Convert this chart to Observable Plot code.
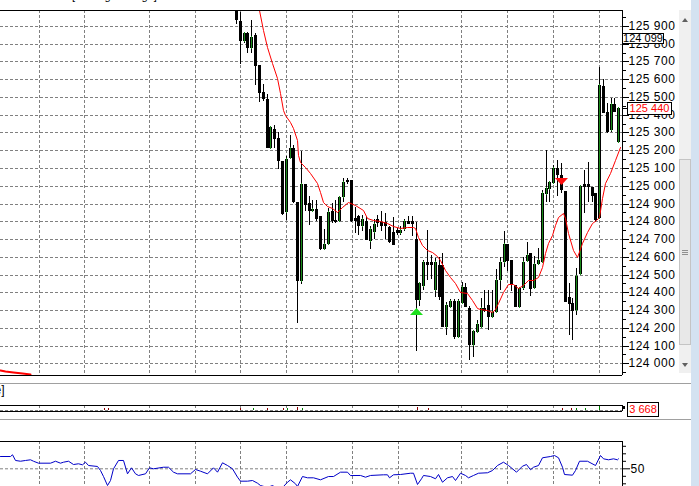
<!DOCTYPE html>
<html><head><meta charset="utf-8">
<script src="https://cdn.jsdelivr.net/npm/d3@7"></script>
<script src="https://cdn.jsdelivr.net/npm/@observablehq/plot@0.6"></script>
<style>
html,body{margin:0;padding:0;background:#fff;}
#wrap{position:relative;width:699px;height:486px;overflow:hidden;background:#fff;font-family:"Liberation Sans",Arial,sans-serif;}
.abs{position:absolute;}
.abs svg{display:block;}
</style></head><body><div id="wrap"></div>
<script>
// ---- data ----
const open = [126010,125928,125817,125861,125778,125849,125680,125527,125489,125215,
125320,125270,125140,124851,125159,125213,124906,124465,125011,124904,
124855,124870,124831,124645,124671,124855,124808,124799,124939,125035,
125033,124818,124827,124774,124804,124688,124739,124810,124795,124795,
124767,124742,124748,124735,124754,124804,124804,124700,124356,124435,
124569,124569,124413,124553,124553,124206,124319,124351,124150,124338,
124431,124310,124103,124178,124206,124310,124328,124262,124290,124469,
124569,124672,124582,124441,124319,124422,124578,124623,124426,124560,
124572,124953,124980,125017,125102,125061,124970,124375,124341,124300,
124501,125008,125008,124995,124957,124817,125562,125417,125314,125459,
125248];
const high = [126040,125977,125868,125868,125934,125859,125680,125572,125515,125339,
125341,125300,125140,125165,125287,125230,124911,125193,125011,124940,
124921,124921,124831,124756,124874,124902,124921,124943,125043,125043,
125035,124883,124836,124836,124825,124772,124814,124836,124857,124847,
124776,124823,124763,124776,124810,124829,124829,124796,124455,124582,
124751,124610,124591,124600,124619,124347,124362,124362,124362,124456,
124452,124323,124182,124244,124366,124413,124413,124413,124529,124600,
124745,124672,124582,124441,124422,124600,124683,124623,124604,124648,
124976,125201,125023,125115,125145,125126,124970,124450,124366,124535,
125004,125089,125136,124995,124957,125667,125600,125465,125496,125496,
125445];
const low = [125911,125684,125802,125750,125746,125568,125474,125478,125212,125208,
125210,125093,124836,124806,125155,124902,124227,124446,124855,124780,
124851,124799,124640,124640,124667,124790,124793,124796,124911,125010,
124795,124733,124724,124743,124693,124645,124701,124768,124744,124701,
124678,124665,124725,124725,124744,124783,124716,124070,124320,124413,
124469,124473,124375,124356,124206,124159,124319,124135,124142,124338,
124319,124018,124037,124175,124206,124289,124187,124255,124281,124413,
124544,124521,124409,124315,124315,124413,124578,124379,124426,124560,
124572,124910,124910,125017,124942,124957,124347,124159,124131,124272,
124501,124845,124910,124910,124797,124813,125408,125296,125305,125417,
125248];
const close = [125934,125817,125861,125778,125838,125677,125525,125487,125215,125332,
125266,125137,124840,125150,125212,124906,124465,125011,124889,124855,
124870,124814,124645,124671,124851,124799,124796,124939,125022,125020,
124799,124799,124774,124814,124697,124754,124782,124791,124776,124776,
124682,124669,124735,124748,124804,124787,124787,124356,124452,124569,
124554,124554,124572,124375,124206,124328,124351,124150,124351,124431,
124319,124103,124182,124221,124310,124296,124262,124290,124469,124569,
124672,124578,124441,124319,124422,124569,124608,124417,124560,124582,
124957,124986,125023,125102,125061,124976,124347,124334,124296,124492,
124999,124995,124995,124944,124807,125568,125408,125304,125459,125417,
125440];

// moving average (red line): bar position, price
const maIdx = [5.1,6.0,7.14,8.03,9.34,10.65,11.51,12.37,12.82,14.12,14.99,15.88,16.30,16.74,18.05,19.36,21.11,21.97,22.84,23.73,25.03,26.34,27.65,29.38,31.13,33.30,34.19,35.91,37.67,39.42,41.15,42.90,44.65,46.38,46.82,47.69,48.58,49.88,51.19,52.50,53.36,54.67,55.98,57.28,58.59,60.35,61.65,62.96,63.82,65.58,66.88,67.75,68.61,69.92,71.23,72.53,73.84,75.15,76.46,77.77,79.07,79.96,80.83,81.69,82.58,83.44,84.31,85.46,86.06,86.92,88.23,89.28,90.43,91.73,93.04,94.17,95.03,95.66,96.52,97.83,99.14,100.45];
const maVal = [126075,125988,125877,125783,125690,125605,125521,125427,125399,125361,125324,125258,125173,125135,125107,125070,125014,124966,124910,124886,124873,124854,124882,124910,124892,124863,124817,124807,124801,124788,124773,124760,124766,124769,124760,124713,124666,124638,124628,124604,124582,124525,124488,124450,124403,124397,124356,124309,124304,124300,124290,124304,124338,124403,124445,124445,124422,124441,124469,124469,124488,124544,124619,124676,124723,124779,124826,124848,124817,124732,124638,124600,124676,124741,124788,124807,124826,124929,125014,125070,125145,125220];

// short red line at the bottom-left of the price panel
const lowRedIdx = [-61.73,-60.4,-58.3,-56.0,-53.9];
const lowRedVal = [123960,123956,123951,123945,123941];

// oscillator (blue line)
const rsiIdx = [-61.7,-59.1,-58.5,-57.8,-56.5,-55.2,-53.9,-53.0,-51.7,-48.7,-47.3,-46.0,-45.2,-43.9,-42.6,-41.3,-40.4,-39.5,-38.6,-36.4,-35.6,-34.7,-33.7,-33.0,-32.1,-30.8,-29.6,-28.6,-27.5,-26.4,-25.6,-23.8,-22.7,-21.6,-19.0,-17.7,-16.4,-15.5,-12.0,-10.7,-9.4,-7.7,-5.9,-5.0,-3.7,-2.4,-1.1,0.2,1.0,2.8,4.1,5.4,6.3,8.0,9.3,10.2,12.4,13.3,14.1,15.4,15.9,17.2,18.5,20.2,22.0,24.1,25.5,27.2,29.0,29.8,32.4,33.7,35.1,38.5,39.4,40.1,41.1,42.9,45.5,46.4,47.3,48.3,49.0,50.7,52.1,52.8,53.8,55.1,56.4,57.3,58.6,59.9,60.8,62.1,63.4,65.6,66.9,68.2,69.8,71.2,72.1,73.2,74.7,75.9,76.9,77.8,79.1,80.0,82.1,83.2,84.3,85.2,85.8,87.8,88.7,89.8,91.7,93.9,95.2,96.1,97.4,98.7,99.6,100.0];
const rsiVal = [66.4,66.4,68.7,61.1,60.1,61.1,62.0,60.1,57.5,57.5,60.1,57.5,58.8,60.1,55.7,56.7,55.3,58.8,54.4,53.1,47.7,39.7,27.7,34.4,50,61.1,61.1,43.3,51.3,43.3,41.1,43.3,51.3,50,52.1,52.1,45.5,43.3,43.3,49.1,46.8,43.3,51.3,45.5,58.0,54.4,50,38.8,33.5,33.5,34.4,30.8,27.7,25.1,27.7,25.1,26.4,32.1,35.3,30,26.4,39.7,38,38,35.3,39.7,39.7,45.5,45.5,41.0,41.1,38.8,41.1,42,42,38,42,42.4,44.1,44.1,29.1,36.7,41.1,39.7,36.7,42.4,32.1,38,39.7,34.4,44.1,41.1,38,41.1,44.1,44.7,47.7,54.4,58.8,54.4,50,45.5,53.5,55.7,48.7,52.1,54.4,64.7,66.4,67.7,64.7,52.1,42.4,41.5,47.7,60.1,60.1,54.4,67.7,63.3,62,63.3,62,63.3];

// volume ticks (tiny)
const volIdx = [-34.6,-33.5,1.1,4.5,8.1,12.3,13.3,15.9,17.2,47.3,50.1,85.3,87.5,89.0,91.2,95.0];
const volVal = [0.2,0.2,0.25,0.2,0.25,0.2,0.3,0.4,0.3,0.45,0.2,0.25,0.2,0.3,0.25,0.55];
const volUp = [0,0,0,1,0,0,1,0,1,0,0,0,0,1,1,1];

// vertical grid positions (bar units)
const vGridIdx = [-51.61,-39.68,-22.68,-10.65,1.12,13.16,30.26,42.30,58.85,70.89,83.00,95.03];

// axis ticks
const priceTicks = d3.range(124000, 125901, 100);
const priceMinor = d3.range(123950, 125951, 100);
const oscTicks = [50];
const oscMinor = [30,40,60,70,80];

// signals and tags
const buyIdx = [47], buyPrice = [124292];
const sellIdx = [85], sellPrice = [125025];
const tagTexts = ["124 099", "125 440"];
const tagPrices = [125833, 125440];
const volTag = "3 668";

// ---- build ----
const wrap = document.getElementById("wrap");
const W = 699;
const xDomain = [-61.73, 100.97];
const yDomain = [123934, 125990];
const fmt = d => d3.format(",")(d).replace(/,/g, " ");
const font = '"Liberation Sans", Arial, sans-serif';
const grid = {stroke: "#808080", strokeOpacity: 1, strokeDasharray: "3,2"};
const green = "#1a8a1a";

const candles = open.map((o, i) => ({i, o, h: high[i], l: low[i], c: close[i]}));
const ma = maIdx.map((x, k) => ({x, y: maVal[k]}));
const lowRed = lowRedIdx.map((x, k) => ({x, y: lowRedVal[k]}));
const osc = rsiIdx.map((x, k) => ({x, y: rsiVal[k]}));
const vols = volIdx.map((x, k) => ({x, v: volVal[k], up: volUp[k]}));

const upTri = {draw(ctx) { ctx.moveTo(0, -3.5); ctx.lineTo(6.5, 3.5); ctx.lineTo(-6.5, 3.5); ctx.closePath(); }};
const downTri = {draw(ctx) { ctx.moveTo(-6.5, -3.5); ctx.lineTo(6.5, -3.5); ctx.lineTo(0, 3.5); ctx.closePath(); }};

function place(el, top) {
  const d = document.createElement("div");
  d.className = "abs"; d.style.left = "0px"; d.style.top = top + "px";
  d.appendChild(el); wrap.appendChild(d); return d;
}

const main = Plot.plot({
  width: W, height: 376, marginTop: 10, marginBottom: 1, marginLeft: 0, marginRight: 77,
  style: {background: "transparent", fontFamily: font, fontSize: "12px", letterSpacing: "0.5px", color: "#000", overflow: "visible"},
  x: {domain: xDomain, round: true, axis: null},
  y: {domain: yDomain, round: true, axis: null},
  marks: [
    Plot.gridY(priceTicks, grid),
    Plot.gridX(vGridIdx, grid),
    Plot.line(lowRed, {x: "x", y: "y", stroke: "#ff0000", strokeWidth: 2, clip: true}),
    Plot.ruleX(candles, {x: "i", y1: "l", y2: "h", stroke: "#000", clip: true}),
    Plot.ruleX(candles, {x: "i", y1: "o", y2: "c", stroke: "#000", strokeWidth: 3, clip: true}),
    Plot.ruleX(candles.filter(d => d.c > d.o), {x: "i", y1: "o", y2: "c", stroke: green, strokeWidth: 1, insetTop: 1, insetBottom: 1, clip: true}),
    Plot.line(ma, {x: "x", y: "y", stroke: "#ff0000", strokeWidth: 1, clip: true}),
    Plot.dot(buyIdx.map((x, k) => ({x, y: buyPrice[k]})), {x: "x", y: "y", symbol: upTri, fill: "#1ee01e", stroke: "none"}),
    Plot.dot(sellIdx.map((x, k) => ({x, y: sellPrice[k]})), {x: "x", y: "y", symbol: downTri, fill: "#ff1010", stroke: "none"}),
    Plot.ruleY([yDomain[1], yDomain[0]], {stroke: "#000"}),
    Plot.ruleX([xDomain[1]], {stroke: "#000"}),
    Plot.axisY(priceTicks, {anchor: "right", label: null, tickSize: 6, tickPadding: 0, tickFormat: fmt, stroke: "#000"}),
    Plot.axisY(priceMinor, {anchor: "right", label: null, tickSize: 3, tickFormat: () => "", stroke: "#000"})
  ]
});
place(main, 0);

const volPlot = Plot.plot({
  width: W, height: 18, marginTop: 5, marginBottom: 7, marginLeft: 0, marginRight: 77,
  style: {background: "transparent", overflow: "visible"},
  x: {domain: xDomain, round: true, axis: null},
  y: {domain: [0, 1], round: true, axis: null},
  marks: [
    Plot.gridY([0.25], grid),
    Plot.gridX(vGridIdx, grid),
    Plot.ruleX(vols, {x: "x", y1: 0.25, y2: d => 0.25 + d.v, stroke: d => d.up ? "#008000" : "#8b0000"}),
    Plot.ruleY([0, 1], {stroke: "#000"}),
    Plot.ruleX([xDomain[1]], {stroke: "#000"})
  ]
});
place(volPlot, 400);

const oscPlot = Plot.plot({
  width: W, height: 46, marginTop: 1, marginBottom: 0, marginLeft: 0, marginRight: 77,
  style: {background: "transparent", fontFamily: font, fontSize: "12px", letterSpacing: "0.5px", color: "#000", overflow: "visible"},
  x: {domain: xDomain, round: true, axis: null},
  y: {domain: [26.4, 86.4], axis: null},
  marks: [
    Plot.gridY([50], grid),
    Plot.gridX(vGridIdx, grid),
    Plot.line(osc, {x: "x", y: "y", stroke: "#0000c8", strokeWidth: 1, clip: true}),
    Plot.ruleY([86.4], {stroke: "#000"}),
    Plot.ruleX([xDomain[1]], {stroke: "#000"}),
    Plot.axisY(oscTicks, {anchor: "right", label: null, tickSize: 7, tickPadding: 1, stroke: "#000"}),
    Plot.axisY(oscMinor, {anchor: "right", label: null, tickSize: 3, tickFormat: () => "", stroke: "#000"})
  ]
});
place(oscPlot, 440);

// helpers for decoration
function div(css) { const d = document.createElement("div"); d.style.cssText = "position:absolute;white-space:nowrap;" + css; wrap.appendChild(d); return d; }

// price tags
const ys = main.scale("y");
const y0 = ys.apply(tagPrices[0]);
const t0 = div(`left:622px;top:${Math.round(y0 - 5.5)}px;width:42px;height:11px;border:1px solid #000;background:#fff;font:11px ${font};line-height:9px;color:#000;text-align:center;box-sizing:border-box;`);
t0.textContent = tagTexts[0];
const y1 = ys.apply(tagPrices[1]);
div(`left:622px;top:${Math.round(y1)}px;width:5px;height:1px;background:#000;`);
const t1 = div(`left:627px;top:${Math.round(y1 - 6.5)}px;width:45px;height:13px;border:1px solid #000;background:#fff;font:11px ${font};line-height:11px;color:#ff0000;text-align:center;box-sizing:border-box;`);
t1.textContent = tagTexts[1];

// volume tag
div(`left:622px;top:406px;width:3px;height:3px;background:#000;`);
const t2 = div(`left:627px;top:402px;width:32px;height:15px;border:1px solid #000;background:#fff;font:11px ${font};line-height:13px;color:#ff0000;text-align:center;box-sizing:border-box;`);
t2.textContent = volTag;

// separators
div(`left:0;top:383px;width:691px;height:1px;background:#a0a0a0;`);
div(`left:0;top:419px;width:691px;height:1px;background:#a0a0a0;`);

// cut-off titles
const tt = div(`left:72px;top:-9px;font:11px ${font};line-height:11px;color:#000;`);
tt.textContent = "[Moving Average]";
const tv = div(`left:-120px;top:384px;width:124.5px;text-align:right;font:12px ${font};line-height:13px;color:#000;`);
tv.textContent = "[Volume]";

// scrollbar + window edge
div(`left:679px;top:10px;width:12px;height:363px;background:#f0f0f0;`);
div(`left:682px;top:18px;width:0;height:0;border-left:3.5px solid transparent;border-right:3.5px solid transparent;border-bottom:4px solid #606060;`);
div(`left:682px;top:363px;width:0;height:0;border-left:3.5px solid transparent;border-right:3.5px solid transparent;border-top:4px solid #606060;`);
div(`left:679px;top:159px;width:12px;height:186px;background:#e8e8e8;border:1px solid #c4c4c4;box-sizing:border-box;`);
div(`left:682px;top:250px;width:6px;height:1px;background:#909090;`);
div(`left:682px;top:252px;width:6px;height:1px;background:#909090;`);
div(`left:682px;top:254px;width:6px;height:1px;background:#909090;`);
div(`left:691px;top:0;width:8px;height:486px;background:#d4e2f1;`);
</script>
</body></html>
